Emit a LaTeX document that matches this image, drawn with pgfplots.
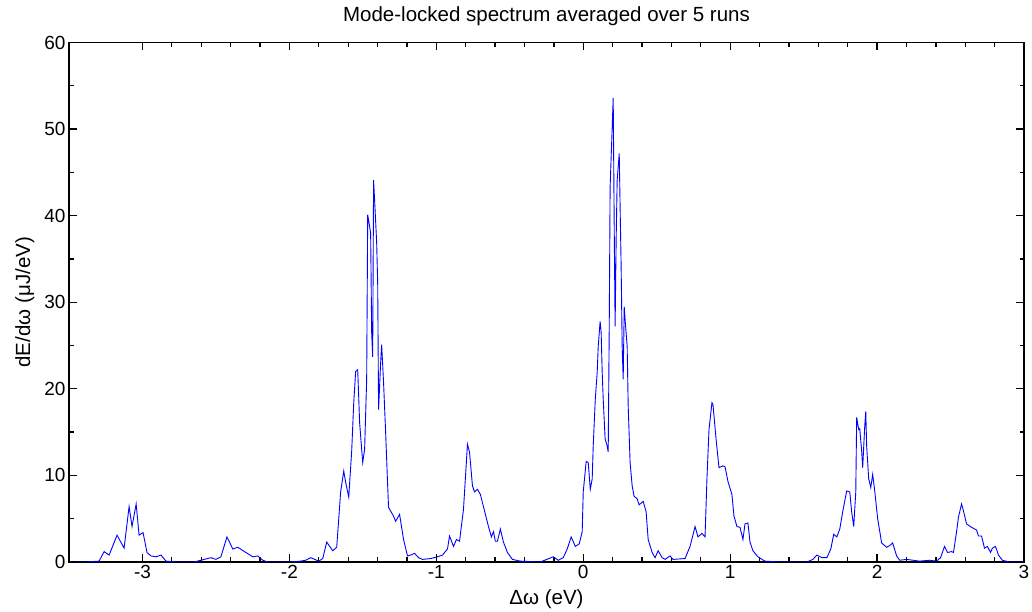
\documentclass[border=0pt]{standalone}
\usepackage{pgfplots}
\pgfplotsset{compat=1.18}
\usepackage{fontspec}
\setmainfont{Liberation Sans}
\pgfplotstableread{
x y
-3.450 0
-3.383 0
-3.295 0.1
-3.261 1.2
-3.227 0.8
-3.173 3.1
-3.125 1.6
-3.091 6.4
-3.071 4.1
-3.043 6.7
-3.023 3.1
-2.996 3.4
-2.969 1.1
-2.942 0.7
-2.908 0.6
-2.874 0.8
-2.840 0.1
-2.772 0
-2.649 0
-2.602 0.2
-2.534 0.5
-2.500 0.3
-2.466 0.6
-2.425 2.9
-2.385 1.5
-2.351 1.7
-2.296 1.1
-2.249 0.6
-2.215 0.7
-2.181 0.2
-2.147 0
-1.990 0
-1.923 0.1
-1.889 0.2
-1.855 0.5
-1.800 0.1
-1.773 0.4
-1.746 2.3
-1.705 1.3
-1.678 1.7
-1.651 8.1
-1.630 10.5
-1.617 9.2
-1.596 7.5
-1.576 12.8
-1.562 18.4
-1.549 22.0
-1.535 22.2
-1.522 16.1
-1.501 11.5
-1.488 13.0
-1.474 21.1
-1.467 40.1
-1.461 39.5
-1.447 38.0
-1.440 26.5
-1.433 23.7
-1.427 44.1
-1.420 41.8
-1.406 36.9
-1.399 32.2
-1.393 17.6
-1.379 23.0
-1.372 25.1
-1.359 20.7
-1.345 15.0
-1.332 9.2
-1.325 6.3
-1.291 5.3
-1.277 4.7
-1.250 5.5
-1.223 2.6
-1.196 0.7
-1.175 0.8
-1.148 1.0
-1.121 0.5
-1.094 0.3
-1.039 0.4
-0.992 0.6
-0.958 0.8
-0.924 1.5
-0.910 3.0
-0.883 1.8
-0.863 2.6
-0.842 2.4
-0.815 6.1
-0.788 13.6
-0.774 12.7
-0.754 8.8
-0.740 8.1
-0.720 8.4
-0.700 7.8
-0.666 5.5
-0.645 4.1
-0.625 2.9
-0.611 3.5
-0.598 2.4
-0.584 2.4
-0.564 3.8
-0.543 2.3
-0.516 1.1
-0.482 0.3
-0.428 0.1
-0.292 0
-0.204 0.6
-0.170 0.2
-0.136 0.5
-0.109 1.5
-0.082 2.9
-0.054 1.8
-0.027 2.1
-0.007 3.5
0.000 8.1
0.020 11.6
0.034 11.5
0.048 8.4
0.061 9.6
0.068 13.4
0.082 18.8
0.095 21.9
0.102 24.9
0.115 27.8
0.122 26.5
0.129 21.9
0.136 18.8
0.149 14.2
0.163 13.4
0.170 12.7
0.177 27.2
0.183 43.3
0.197 50.1
0.204 53.6
0.211 38.4
0.217 27.2
0.224 37.2
0.231 44.1
0.245 47.2
0.251 41.0
0.258 34.1
0.265 24.9
0.272 21.1
0.279 29.5
0.285 28.0
0.299 24.9
0.306 18.0
0.319 11.5
0.333 8.8
0.346 7.6
0.367 7.3
0.380 6.6
0.408 7.0
0.428 5.8
0.442 2.6
0.469 1.1
0.489 0.5
0.510 1.3
0.537 0.5
0.557 0.3
0.591 0.7
0.611 0.3
0.693 0.4
0.727 1.8
0.761 4.1
0.781 2.9
0.808 3.3
0.829 2.9
0.842 9.6
0.856 15.3
0.876 18.4
0.883 18.2
0.904 14.2
0.924 10.9
0.951 11.1
0.965 11.0
0.985 9.3
1.012 7.8
1.026 5.3
1.046 4.1
1.067 4.0
1.087 2.6
1.101 4.4
1.121 4.5
1.135 2.3
1.155 1.3
1.189 0.6
1.236 0.1
1.338 0
1.522 0
1.563 0.3
1.590 0.8
1.624 0.5
1.658 0.5
1.685 1.5
1.705 3.2
1.726 2.9
1.746 3.8
1.766 5.8
1.793 8.2
1.814 8.1
1.827 5.8
1.841 4.1
1.855 8.1
1.861 16.7
1.875 15.3
1.882 15.4
1.895 12.8
1.902 10.9
1.916 15.7
1.923 17.4
1.929 13.4
1.943 9.6
1.957 8.6
1.970 10.1
1.984 8.2
2.004 5.0
2.031 2.2
2.065 1.7
2.086 1.9
2.106 2.2
2.133 0.7
2.154 0.2
2.201 0.3
2.289 0.1
2.357 0.2
2.405 0.1
2.432 0.5
2.459 1.8
2.480 1.1
2.507 1.2
2.520 1.1
2.541 3.5
2.554 5.2
2.575 6.7
2.588 5.9
2.609 4.4
2.643 4.0
2.677 3.7
2.690 3.0
2.711 3.0
2.731 1.6
2.751 1.8
2.772 1.1
2.785 1.6
2.806 1.8
2.826 0.8
2.853 0.2
2.901 0
2.990 0
}\spectrum
\begin{document}
\begin{tikzpicture}
\path[use as bounding box] (0,0) rectangle (1032pt,612pt);
\begin{axis}[
  at={(69pt,50pt)}, anchor=south west,
  width=955pt, height=519.5pt, scale only axis,
  xmin=-3.5, xmax=3, ymin=0, ymax=60,
  xtick={-3,-2,-1,0,1,2,3},
  ytick={0,10,20,30,40,50,60},
  minor x tick num=4, minor y tick num=1,
  tick align=inside,
  xtick pos=both, ytick pos=both,
  xticklabel pos=lower, yticklabel pos=left,
  major tick length=8pt, minor tick length=4.5pt,
  every tick/.style={black, line width=1.3pt},
  axis line style={line width=1.8pt},
  /pgf/number format/assume math mode=true,
  tick label style={font=\fontsize{19}{22}\selectfont},
  title={Mode-locked spectrum averaged over 5 runs},
  title style={at={(axis description cs:0.5,1)}, anchor=base, yshift=15pt, font=\fontsize{20.5}{24}\selectfont},
  xlabel={Δω (eV)},
  xlabel style={at={(axis description cs:0.5,0)}, anchor=base, yshift=-43pt, font=\fontsize{20.5}{24}\selectfont},
  ylabel={dE/dω (μJ/eV)},
  ylabel style={at={(axis description cs:0,0.5)}, anchor=base, yshift=39pt, font=\fontsize{20.5}{24}\selectfont},
]
\addplot[color=blue, line width=0.9pt, mark=none] table[x=x, y=y] {\spectrum};
\end{axis}
\end{tikzpicture}
\end{document}
